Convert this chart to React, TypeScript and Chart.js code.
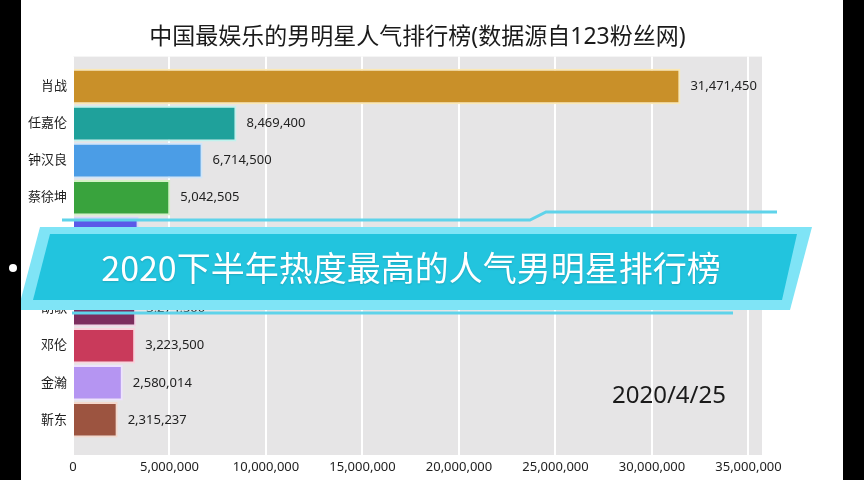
import React, { useEffect, useRef } from 'react';
import { Chart, registerables } from 'chart.js';

Chart.register(...registerables);

const titleText = '中国最娱乐的男明星人气排行榜(数据源自123粉丝网)';
const bannerText = '2020下半年热度最高的人气男明星排行榜';
const dateText = '2020/4/25';

const names = ['肖战', '任嘉伦', '钟汉良', '蔡徐坤', '李现', '杨洋', '胡歌', '邓伦', '金瀚', '靳东'];
const values = [31471450, 8469400, 6714500, 5042505, 3400000, 3320000, 3274500, 3223500, 2580014, 2315237];
const barColors = ['#c99029', '#1fa19b', '#4b9de6', '#39a33d', '#5b59e8', '#3f8fc0', '#7c2d5e', '#c93a5b', '#b595f2', '#9c5440'];
const barBorders = ['#fbe8b4', '#bff3ee', '#cfe6fb', '#d3f3c6', '#d6d5fb', '#cfe4f2', '#f3d3e6', '#fbd3de', '#eee2ff', '#f4d8cc'];
const xTickValues = [0, 5000000, 10000000, 15000000, 20000000, 25000000, 30000000, 35000000];

const FONT = "'Noto Sans', 'Noto Sans CJK SC', sans-serif";
const CJK = "'Noto Sans CJK SC', 'Noto Sans', sans-serif";

const fmt = (v: number) => v.toLocaleString('en-US');

const bgPlugin = {
  id: 'bg',
  beforeDraw(chart: any) {
    const { ctx, chartArea } = chart;
    ctx.save();
    ctx.fillStyle = '#ffffff';
    ctx.fillRect(0, 0, chart.width, chart.height);
    ctx.fillStyle = '#e6e5e6';
    ctx.fillRect(chartArea.left, chartArea.top, chartArea.right - chartArea.left, chartArea.bottom - chartArea.top);
    ctx.restore();
  },
};

const valueLabelPlugin = {
  id: 'valueLabels',
  afterDatasetsDraw(chart: any) {
    const { ctx } = chart;
    const meta = chart.getDatasetMeta(0);
    ctx.save();
    ctx.font = `13px ${FONT}`;
    ctx.fillStyle = '#222222';
    ctx.textAlign = 'left';
    ctx.textBaseline = 'middle';
    meta.data.forEach((bar: any, i: number) => {
      ctx.fillText(fmt(values[i]), bar.x + 10, bar.y);
    });
    ctx.restore();
  },
};

const overlayPlugin = {
  id: 'overlay',
  afterDraw(chart: any) {
    const { ctx } = chart;
    ctx.save();
    // date
    ctx.font = `24px ${FONT}`;
    ctx.fillStyle = '#1a1a1a';
    ctx.textAlign = 'center';
    ctx.textBaseline = 'middle';
    ctx.fillText(dateText, 669, 396);

    // decorative lines
    ctx.strokeStyle = '#5fd3ea';
    ctx.lineWidth = 3;
    ctx.beginPath();
    ctx.moveTo(62, 220);
    ctx.lineTo(530, 220);
    ctx.lineTo(546, 212);
    ctx.lineTo(777, 212);
    ctx.stroke();
    ctx.beginPath();
    ctx.moveTo(72, 313);
    ctx.lineTo(733, 313);
    ctx.stroke();

    // banner
    const poly = (pts: number[][]) => {
      ctx.beginPath();
      ctx.moveTo(pts[0][0], pts[0][1]);
      for (let i = 1; i < pts.length; i++) ctx.lineTo(pts[i][0], pts[i][1]);
      ctx.closePath();
      ctx.fill();
    };
    ctx.fillStyle = '#7fe4f6';
    poly([[40, 227], [812, 227], [790, 310], [18, 310]]);
    ctx.fillStyle = '#22c4de';
    poly([[50, 234], [797, 234], [782, 300], [33, 300]]);

    ctx.font = `34px ${CJK}`;
    ctx.fillStyle = '#ffffff';
    ctx.shadowColor = 'rgba(0,0,0,0.15)';
    ctx.shadowBlur = 2;
    ctx.shadowOffsetY = 1;
    ctx.textAlign = 'center';
    ctx.textBaseline = 'middle';
    ctx.fillText(bannerText, 411, 268);
    ctx.shadowColor = 'transparent';

    // black side strips
    ctx.fillStyle = '#000000';
    ctx.fillRect(0, 0, 21, chart.height);
    ctx.fillRect(843, 0, chart.width - 843, chart.height);

    // dot
    ctx.fillStyle = '#ffffff';
    ctx.beginPath();
    ctx.arc(13, 268, 4, 0, Math.PI * 2);
    ctx.fill();
    ctx.restore();
  },
};

export default function App() {
  const canvasRef = useRef<HTMLCanvasElement | null>(null);

  useEffect(() => {
    const canvas = canvasRef.current;
    if (!canvas) return;
    const chart = new Chart(canvas, {
      type: 'bar',
      data: {
        datasets: [
          {
            data: values.map((v, i) => ({ x: v, y: i })) as any,
            backgroundColor: barColors,
            borderColor: barBorders,
            borderWidth: 2,
            barPercentage: 0.96,
            categoryPercentage: 1,
          },
        ],
      },
      options: {
        indexAxis: 'y',
        animation: false,
        responsive: false,
        devicePixelRatio: 1,
        layout: { padding: { left: 0, right: 102, top: 0, bottom: 0 } },
        plugins: {
          legend: { display: false },
          tooltip: { enabled: false },
          title: {
            display: true,
            text: titleText,
            fullSize: false,
            color: '#1a1a1a',
            font: { family: FONT, size: 23, weight: 'normal' },
            padding: { top: 24, bottom: 5 },
          },
        },
        scales: {
          x: {
            type: 'linear',
            min: 0,
            max: 35700000,
            afterBuildTicks: (scale: any) => {
              scale.ticks = xTickValues.map((v) => ({ value: v }));
            },
            afterFit: (scale: any) => {
              scale.height = 25;
            },
            grid: { color: '#ffffff', lineWidth: 2, drawTicks: false },
            border: { display: false },
            ticks: {
              padding: 4,
              color: '#222222',
              font: { family: FONT, size: 13 },
              callback: (v: any) => fmt(Number(v)),
            },
          },
          y: {
            type: 'linear',
            reverse: true,
            offset: false,
            min: -0.81,
            max: 9.95,
            afterBuildTicks: (scale: any) => {
              scale.ticks = names.map((_, i) => ({ value: i }));
            },
            afterFit: (scale: any) => {
              scale.width = 73;
            },
            grid: { display: false, drawTicks: false, offset: false },
            border: { display: false },
            ticks: {
              padding: 6,
              color: '#222222',
              font: { family: FONT, size: 13 },
              callback: (v: any) => names[Number(v)] ?? '',
            },
          },
        },
      },
      plugins: [bgPlugin, valueLabelPlugin, overlayPlugin],
    } as any);
    return () => chart.destroy();
  }, []);

  return (
    <div style={{ position: 'fixed', left: 0, top: 0, width: 864, height: 480, background: '#ffffff' }}>
      <canvas ref={canvasRef} width={864} height={480} style={{ display: 'block', width: 864, height: 480 }} />
    </div>
  );
}
